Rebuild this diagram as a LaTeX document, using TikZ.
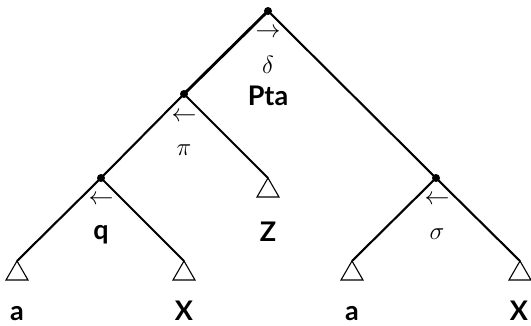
\documentclass[tikz,border=0pt]{standalone}
\usepackage{fontspec}
\setsansfont{Lato}
\begin{document}
\begin{tikzpicture}[x=1pt,y=-1pt,
  edge/.style={line width=2.1pt},
  thickedge/.style={line width=2.9pt},
  dotnode/.style={circle,fill=black,inner sep=0pt,minimum size=8pt},
  tri/.style={line width=1.1pt,line join=miter},
  lbl/.style={anchor=base,inner sep=0pt,font=\fontsize{27}{30}\selectfont\sffamily\bfseries},
  arr/.style={inner sep=0pt,font=\fontsize{23}{26}\selectfont},
  grk/.style={anchor=base,inner sep=0pt,font=\fontsize{32}{36}\selectfont}]
\useasboundingbox (0,0) rectangle (531,325);
% tree points
\coordinate (r) at (268,11);
\coordinate (l) at (184,94);
\coordinate (ll) at (101,178);
\coordinate (z) at (268,178);
\coordinate (rr) at (436,178);
\coordinate (a1) at (17,261);
\coordinate (x1) at (184,261);
\coordinate (a2) at (352,261);
\coordinate (x2) at (520,261);
% edges
\draw[thickedge] (r) -- (l);
\draw[edge] (r) -- (rr);
\draw[edge] (l) -- (ll);
\draw[edge] (l) -- (z);
\draw[edge] (ll) -- (a1);
\draw[edge] (ll) -- (x1);
\draw[edge] (rr) -- (a2);
\draw[edge] (rr) -- (x2);
% dots
\node[dotnode] (rd) at (r) {};
\node[dotnode] (ld) at (l) {};
\node[dotnode] (lld) at (ll) {};
\node[dotnode] (rrd) at (rr) {};
% triangles
\foreach \p in {z,a1,x1,a2,x2}{
  \draw[tri] (\p) -- ++(-11,19) -- ++(22,0) -- cycle;
}
% labels at root
\node[arr] (rarr) at (268,33) {$\rightarrow$};
\node[grk] (rdelta) at (268,73) {$\delta$};
\node[lbl] (pta) at (268,105) {Pta};
% left child
\node[arr] (larr) at (184,117) {$\leftarrow$};
\node[grk] (lpi) at (184,155) {$\pi$};
% left-left
\node[arr] (llarr) at (101,200) {$\leftarrow$};
\node[lbl] (q) at (101,239) {q};
\node[lbl] (zl) at (268,241) {Z};
% right
\node[arr] (rrarr) at (437,200) {$\leftarrow$};
\node[grk] (sigma) at (437,239) {$\sigma$};
% leaves
\node[lbl] (la1) at (17,320) {a};
\node[lbl] (lx1) at (184,320) {X};
\node[lbl] (la2) at (352,320) {a};
\node[lbl] (lx2) at (519,320) {X};
\end{tikzpicture}
\end{document}
